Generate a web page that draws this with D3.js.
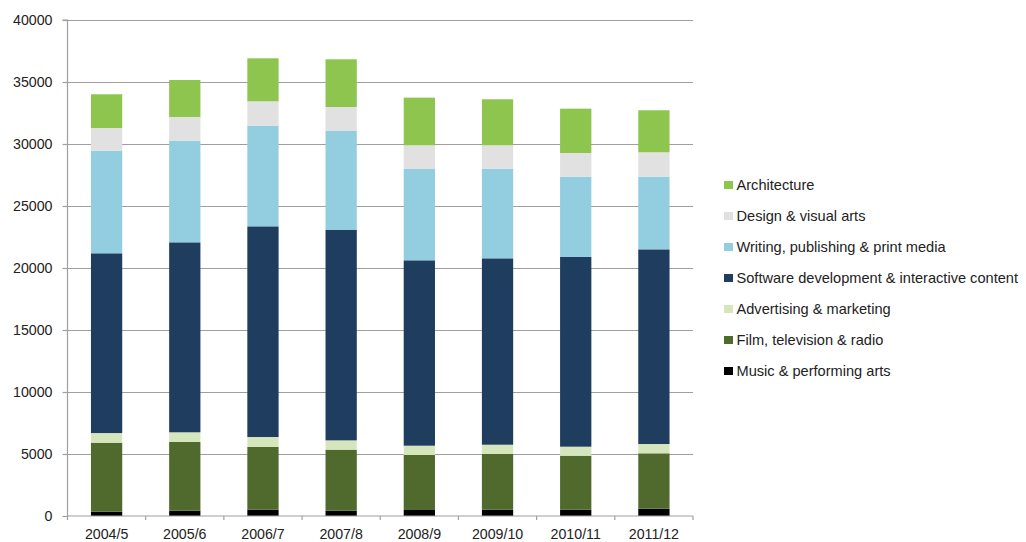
<!DOCTYPE html>
<html>
<head>
<meta charset="utf-8">
<script src="https://cdn.jsdelivr.net/npm/d3@7/dist/d3.min.js"></script>
<style>
  html, body { margin: 0; padding: 0; background: #fff; }
  svg { display: block; }
  text { font-family: "Liberation Sans", Arial, sans-serif; fill: #222; }
</style>
</head>
<body>
<svg id="chart" width="1026" height="542"></svg>
<script>
const years = ["2004/5", "2005/6", "2006/7", "2007/8", "2008/9", "2009/10", "2010/11", "2011/12"];
const seriesNames = [
  "Music & performing arts",
  "Film, television & radio",
  "Advertising & marketing",
  "Software development & interactive content",
  "Writing, publishing & print media",
  "Design & visual arts",
  "Architecture"
];
const music        = [350, 430, 510, 430, 485, 510, 510, 590];
const film         = [5560, 5540, 5055, 4920, 4435, 4490, 4355, 4465];
const advertising  = [780, 780, 805, 750, 750, 750, 725, 750];
const software     = [14495, 15320, 16990, 16965, 14950, 15030, 15300, 15700];
const writing      = [8275, 8200, 8120, 7985, 7365, 7230, 6475, 5860];
const design       = [1830, 1910, 1960, 1935, 1910, 1885, 1910, 1965];
const architecture = [2720, 2980, 3470, 3845, 3845, 3710, 3575, 3390];
const yTicks = [0, 5000, 10000, 15000, 20000, 25000, 30000, 35000, 40000];
const colors = ["#000000", "#4f6a2c", "#d5e6bd", "#1f3d5f", "#92cde0", "#e1e1e1", "#8dc54f"];

const seriesValues = [music, film, advertising, software, writing, design, architecture];
const table = years.map((y, i) => {
  const row = { year: y };
  seriesNames.forEach((s, j) => row[s] = seriesValues[j][i]);
  return row;
});

const svg = d3.select("#chart");
const margin = { left: 67.5, right: 333, top: 20, bottom: 26 };
const W = 1026, H = 542;
const x = d3.scaleBand().domain(years).range([margin.left, W - margin.right]).paddingInner(0.6).paddingOuter(0.3);
const y = d3.scaleLinear().domain([0, 40000]).range([H - margin.bottom, margin.top]);

const gridColor = "#a39e9e";

// gridlines
svg.append("g")
  .selectAll("line")
  .data(yTicks.slice(1))
  .join("line")
  .attr("x1", margin.left).attr("x2", W - margin.right)
  .attr("y1", d => Math.round(y(d)) + 0.5).attr("y2", d => Math.round(y(d)) + 0.5)
  .attr("stroke", gridColor).attr("stroke-width", 1.2);

// bars
const stack = d3.stack().keys(seriesNames);
const stacked = stack(table);
svg.append("g")
  .selectAll("g")
  .data(stacked)
  .join("g")
  .attr("fill", (d, i) => colors[i])
  .selectAll("rect")
  .data(d => d)
  .join("rect")
  .attr("x", d => x(d.data.year))
  .attr("width", x.bandwidth())
  .attr("y", d => y(d[1]))
  .attr("height", d => y(d[0]) - y(d[1]));

// y axis
const yAxis = d3.axisLeft(y).tickValues(yTicks).tickSize(5).tickPadding(10).tickFormat(d3.format("d"));
const gy = svg.append("g").attr("transform", `translate(${margin.left},0)`).call(yAxis);
gy.select(".domain").attr("stroke", gridColor).attr("stroke-width", 1.2).attr("d", `M-5,${y(40000)}H0V${y(0)}`);
gy.selectAll(".tick line").attr("stroke", gridColor).attr("stroke-width", 1.2);
gy.selectAll(".tick text").attr("font-size", 14.2).attr("fill", "#222").attr("font-family", "Liberation Sans, Arial, sans-serif");

// x axis
const xBoundaries = d3.range(years.length + 1);
const x0 = margin.left;
const gx = svg.append("g").attr("transform", `translate(0,${y(0)})`);
gx.append("line").attr("x1", margin.left).attr("x2", W - margin.right).attr("y1", 0).attr("y2", 0)
  .attr("stroke", gridColor).attr("stroke-width", 1.2);
gx.selectAll("line.tk").data(xBoundaries).join("line").attr("class", "tk")
  .attr("x1", i => x0 + i * (W - margin.right - margin.left) / years.length)
  .attr("x2", i => x0 + i * (W - margin.right - margin.left) / years.length)
  .attr("y1", 0).attr("y2", 4).attr("stroke", gridColor).attr("stroke-width", 1.2);
gx.selectAll("text").data(years).join("text")
  .attr("x", d => x(d) + x.bandwidth() / 2)
  .attr("y", 23)
  .attr("text-anchor", "middle")
  .attr("font-size", 14.2)
  .text(d => d);

// legend
const legendOrder = seriesNames.map((s, i) => ({ name: s, color: colors[i] })).reverse();
const lg = svg.append("g").attr("transform", "translate(724,185)");
const items = lg.selectAll("g").data(legendOrder).join("g")
  .attr("transform", (d, i) => `translate(0,${i * 31})`);
items.append("rect").attr("x", 0).attr("y", -4).attr("width", 9).attr("height", 8).attr("fill", d => d.color);
items.append("text").attr("x", 12.5).attr("y", 5).attr("font-size", 14.6).text(d => d.name);
</script>
</body>
</html>
